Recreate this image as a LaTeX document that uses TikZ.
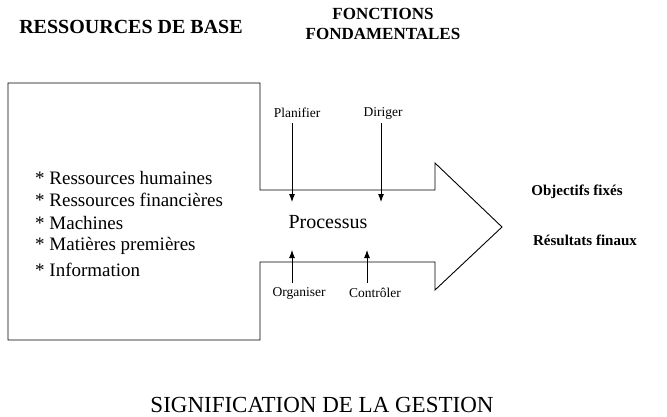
\documentclass[tikz,border=0pt]{standalone}
\usepackage{fontspec}
\setmainfont{Liberation Serif}
\usetikzlibrary{arrows.meta}
\begin{document}
\begin{tikzpicture}[x=1pt,y=-1pt,
  lst/.style={anchor=west,font=\fontsize{19}{21}\selectfont,inner sep=0pt},
  small/.style={font=\fontsize{13.5}{15}\selectfont,inner sep=0pt},
  ttl/.style={font=\bfseries\fontsize{20}{21}\selectfont,inner sep=0pt,align=center},
  res/.style={font=\bfseries\fontsize{15}{17}\selectfont,inner sep=0pt},
  arr/.style={-{Latex[length=8pt,width=6pt]},line width=0.9pt},
  ]
\useasboundingbox (0,0) rectangle (667,416);
\draw[line width=0.9pt] (8,83)--(260,83)--(260,190)--(435,190)--(435,163)--(502,227)--(435,290)--(435,262)--(260,262)--(260,340)--(8,340)--cycle;
\node[ttl] (rb) at (131,27) {RESSOURCES DE BASE};
\node[ttl,font=\bfseries\fontsize{17}{20}\selectfont] (ff) at (383,24) {FONCTIONS\\FONDAMENTALES};
\node[lst] (l1) at (35,178) {* Ressources humaines};
\node[lst] (l2) at (35,200) {* Ressources financières};
\node[lst] (l3) at (35,223) {* Machines};
\node[lst] (l4) at (35,246) {* Matières premières};
\node[lst] (l5) at (35,270) {* Information};
\node[font=\fontsize{20}{22}\selectfont,inner sep=0pt] (pr) at (328,222) {Processus};
\node[small] (pl) at (297,113) {Planifier};
\node[small] (di) at (383,113) {Diriger};
\node[small] (or) at (299,293) {Organiser};
\node[small] (co) at (375,293) {Contrôler};
\coordinate (pe) at (292,202); \coordinate (de) at (381,202);
\coordinate (oe) at (292,250); \coordinate (ce) at (367,250);
\draw[arr] (292,123) -- (pe);
\draw[arr] (381,123) -- (de);
\draw[arr] (292,283) -- (oe);
\draw[arr] (367,283) -- (ce);
\node[res] (ob) at (577,192) {Objectifs fixés};
\node[res] (re) at (585,240) {Résultats finaux};
\node[font=\fontsize{23}{25}\selectfont,inner sep=0pt] (sg) at (322,405) {SIGNIFICATION DE LA GESTION};
\end{tikzpicture}
\end{document}
